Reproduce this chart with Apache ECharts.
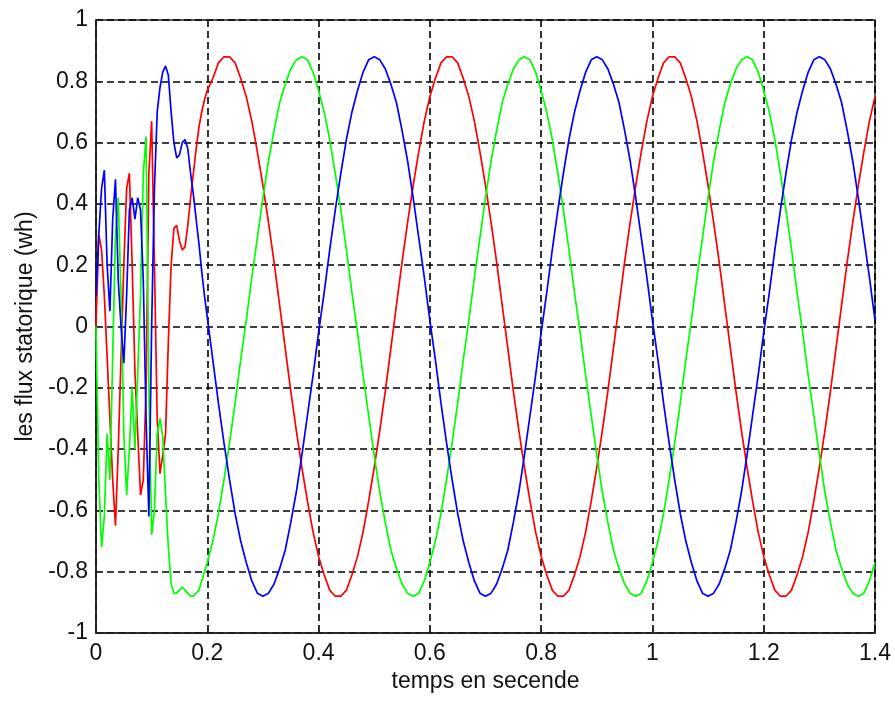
<!DOCTYPE html>
<html>
<head>
<meta charset="utf-8">
<script src="https://cdn.jsdelivr.net/npm/echarts@6/dist/echarts.min.js"></script>
<style>
  html, body { margin: 0; padding: 0; background: #fff; }
  #fluxChart { width: 895px; height: 702px; }
</style>
</head>
<body>
<div id="fluxChart"></div>
<script>
// sample times (s): start-up part every 5 ms, then steady part every 10 ms
const timeStart = [0,0.005,0.01,0.015,0.02,0.025,0.03,0.035,0.04,0.045,0.05,0.055,0.06,0.065,0.07,0.075,0.08,0.085,0.09,0.095,
  0.1,0.105,0.11,0.115,0.12,0.125,0.13,0.135,0.14,0.145,0.15,0.155,0.16,0.165,0.17,0.175,0.18,0.185,0.19,0.195,0.2];
const timeSteady = [0.21,0.22,0.23,0.24,0.25,0.26,0.27,0.28,0.29,0.3,0.31,0.32,0.33,0.34,0.35,0.36,0.37,0.38,0.39,0.4,
  0.41,0.42,0.43,0.44,0.45,0.46,0.47,0.48,0.49,0.5,0.51,0.52,0.53,0.54,0.55,0.56,0.57,0.58,0.59,0.6,
  0.61,0.62,0.63,0.64,0.65,0.66,0.67,0.68,0.69,0.7,0.71,0.72,0.73,0.74,0.75,0.76,0.77,0.78,0.79,0.8,
  0.81,0.82,0.83,0.84,0.85,0.86,0.87,0.88,0.89,0.9,0.91,0.92,0.93,0.94,0.95,0.96,0.97,0.98,0.99,1,
  1.01,1.02,1.03,1.04,1.05,1.06,1.07,1.08,1.09,1.1,1.11,1.12,1.13,1.14,1.15,1.16,1.17,1.18,1.19,1.2,
  1.21,1.22,1.23,1.24,1.25,1.26,1.27,1.28,1.29,1.3,1.31,1.32,1.33,1.34,1.35,1.36,1.37,1.38,1.39,1.4];

// flux phase a (red)
const fluxRedStart = [0,0.3,0.25,0.1,-0.1,-0.3,-0.5,-0.65,-0.4,-0.1,0.2,0.45,0.5,0.2,-0.15,-0.35,-0.55,-0.5,-0.2,0.5,
  0.67,0.2,-0.3,-0.48,-0.42,-0.35,-0.05,0.2,0.32,0.33,0.28,0.25,0.26,0.33,0.42,0.5,0.58,0.65,0.7,0.74,0.77];
const fluxRedSteady = [0.81,0.86,0.88,
  0.88,0.86,0.81,0.75,0.67,0.57,0.46,0.34,0.21,0.07,-0.07,-0.21,-0.34,-0.46,-0.57,-0.67,-0.75,-0.81,-0.86,-0.88,
  -0.88,-0.86,-0.81,-0.75,-0.67,-0.57,-0.46,-0.34,-0.21,-0.07,0.07,0.21,0.34,0.46,0.57,0.67,0.75,0.81,0.86,0.88,
  0.88,0.86,0.81,0.75,0.67,0.57,0.46,0.34,0.21,0.07,-0.07,-0.21,-0.34,-0.46,-0.57,-0.67,-0.75,-0.81,-0.86,-0.88,
  -0.88,-0.86,-0.81,-0.75,-0.67,-0.57,-0.46,-0.34,-0.21,-0.07,0.07,0.21,0.34,0.46,0.57,0.67,0.75,0.81,0.86,0.88,
  0.88,0.86,0.81,0.75,0.67,0.57,0.46,0.34,0.21,0.07,-0.07,-0.21,-0.34,-0.46,-0.57,-0.67,-0.75,-0.81,-0.86,-0.88,
  -0.88,-0.86,-0.81,-0.75,-0.67,-0.57,-0.46,-0.34,-0.21,-0.07,0.07,0.21,0.34,0.46,0.57,0.67,0.75];

// flux phase b (green)
const fluxGreenStart = [0,-0.5,-0.72,-0.62,-0.35,-0.5,-0.1,0.3,0.42,0.1,-0.35,-0.55,-0.4,-0.2,-0.4,-0.15,0.1,0.5,0.62,-0.2,
  -0.68,-0.6,-0.35,-0.3,-0.36,-0.55,-0.72,-0.84,-0.87,-0.87,-0.86,-0.85,-0.86,-0.87,-0.88,-0.88,-0.87,-0.86,-0.83,-0.8,-0.77];
const fluxGreenSteady = [
  -0.7,-0.61,-0.5,-0.38,-0.25,-0.11,0.02,0.16,0.29,0.42,0.54,0.64,0.73,0.79,0.84,0.87,0.88,0.87,0.83,0.77,
  0.7,0.61,0.5,0.38,0.25,0.11,-0.02,-0.16,-0.29,-0.42,-0.54,-0.64,-0.73,-0.79,-0.84,-0.87,-0.88,-0.87,-0.83,-0.77,
  -0.7,-0.61,-0.5,-0.38,-0.25,-0.11,0.02,0.16,0.29,0.42,0.54,0.64,0.73,0.79,0.84,0.87,0.88,0.87,0.83,0.77,
  0.7,0.61,0.5,0.38,0.25,0.11,-0.02,-0.16,-0.29,-0.42,-0.54,-0.64,-0.73,-0.79,-0.84,-0.87,-0.88,-0.87,-0.83,-0.77,
  -0.7,-0.61,-0.5,-0.38,-0.25,-0.11,0.02,0.16,0.29,0.42,0.54,0.64,0.73,0.79,0.84,0.87,0.88,0.87,0.83,0.77,
  0.7,0.61,0.5,0.38,0.25,0.11,-0.02,-0.16,-0.29,-0.42,-0.54,-0.64,-0.73,-0.79,-0.84,-0.87,-0.88,-0.87,-0.83,-0.77];

// flux phase c (blue)
const fluxBlueStart = [0.1,0.3,0.45,0.51,0.2,0.05,0.35,0.48,0.15,0,-0.12,0.1,0.38,0.42,0.35,0.42,0.38,0.15,-0.3,-0.62,
  0,0.45,0.7,0.78,0.83,0.85,0.82,0.7,0.6,0.55,0.56,0.6,0.61,0.58,0.5,0.43,0.35,0.27,0.18,0.1,0.03];
const fluxBlueSteady = [
  -0.11,-0.25,-0.38,-0.5,-0.61,-0.7,-0.77,-0.83,-0.87,-0.88,-0.87,-0.84,-0.79,-0.73,-0.64,-0.54,-0.42,-0.29,-0.16,-0.02,
  0.11,0.25,0.38,0.5,0.61,0.7,0.77,0.83,0.87,0.88,0.87,0.84,0.79,0.73,0.64,0.54,0.42,0.29,0.16,0.02,
  -0.11,-0.25,-0.38,-0.5,-0.61,-0.7,-0.77,-0.83,-0.87,-0.88,-0.87,-0.84,-0.79,-0.73,-0.64,-0.54,-0.42,-0.29,-0.16,-0.02,
  0.11,0.25,0.38,0.5,0.61,0.7,0.77,0.83,0.87,0.88,0.87,0.84,0.79,0.73,0.64,0.54,0.42,0.29,0.16,0.02,
  -0.11,-0.25,-0.38,-0.5,-0.61,-0.7,-0.77,-0.83,-0.87,-0.88,-0.87,-0.84,-0.79,-0.73,-0.64,-0.54,-0.42,-0.29,-0.16,-0.02,
  0.11,0.25,0.38,0.5,0.61,0.7,0.77,0.83,0.87,0.88,0.87,0.84,0.79,0.73,0.64,0.54,0.42,0.29,0.16,0.02];

const xTicks = [0, 0.2, 0.4, 0.6, 0.8, 1, 1.2, 1.4];
const xTitle = 'temps en secende';
const yTitle = 'les flux statorique (wh)';
const colorsFlux = ['#ff0000', '#00ff00', '#0000ff'];

function pairUp(start, steady) {
  const times = timeStart.concat(timeSteady);
  const vals = start.concat(steady);
  return times.map((t, i) => [t, vals[i]]);
}

const textFont = 'Liberation Sans, Arial, sans-serif';
const gridDash = { color: '#000', type: [7, 4], width: 1.6 };
const fluxChart = echarts.init(document.getElementById('fluxChart'));

fluxChart.setOption({
  animation: false,
  backgroundColor: '#fff',
  grid: { left: 96, right: 20, top: 20, bottom: 69, show: true, borderColor: '#222', borderWidth: 1.5 },
  xAxis: {
    type: 'value', min: 0, max: 1.4, interval: 0.2,
    name: xTitle, nameLocation: 'middle', nameGap: 33,
    nameTextStyle: { fontFamily: textFont, fontSize: 23, color: '#111' },
    axisLine: { onZero: false, lineStyle: { color: '#222', width: 1.5 } },
    axisTick: { inside: true, length: 5, lineStyle: { color: '#222' } },
    axisLabel: { fontFamily: textFont, fontSize: 23, color: '#111', margin: 9,
      formatter: v => String(xTicks.reduce((a, b) => Math.abs(b - v) < Math.abs(a - v) ? b : a)) },
    splitLine: { show: true, lineStyle: gridDash }
  },
  yAxis: {
    type: 'value', min: -1, max: 1, interval: 0.2,
    name: yTitle, nameLocation: 'middle', nameGap: 58,
    nameTextStyle: { fontFamily: textFont, fontSize: 23, color: '#111' },
    axisLine: { onZero: false, lineStyle: { color: '#222', width: 1.5 } },
    axisTick: { inside: true, length: 5, lineStyle: { color: '#222' } },
    axisLabel: { fontFamily: textFont, fontSize: 23, color: '#111', margin: 8,
      formatter: v => String(Math.round(v * 10) / 10) },
    splitLine: { show: true, lineStyle: gridDash }
  },
  series: [
    { name: 'phi a', type: 'line', showSymbol: false, symbol: 'none', data: pairUp(fluxRedStart, fluxRedSteady),
      lineStyle: { color: colorsFlux[0], width: 1.7 } },
    { name: 'phi b', type: 'line', showSymbol: false, symbol: 'none', data: pairUp(fluxGreenStart, fluxGreenSteady),
      lineStyle: { color: colorsFlux[1], width: 1.7 } },
    { name: 'phi c', type: 'line', showSymbol: false, symbol: 'none', data: pairUp(fluxBlueStart, fluxBlueSteady),
      lineStyle: { color: colorsFlux[2], width: 1.7 } }
  ]
});
</script>
</body>
</html>
